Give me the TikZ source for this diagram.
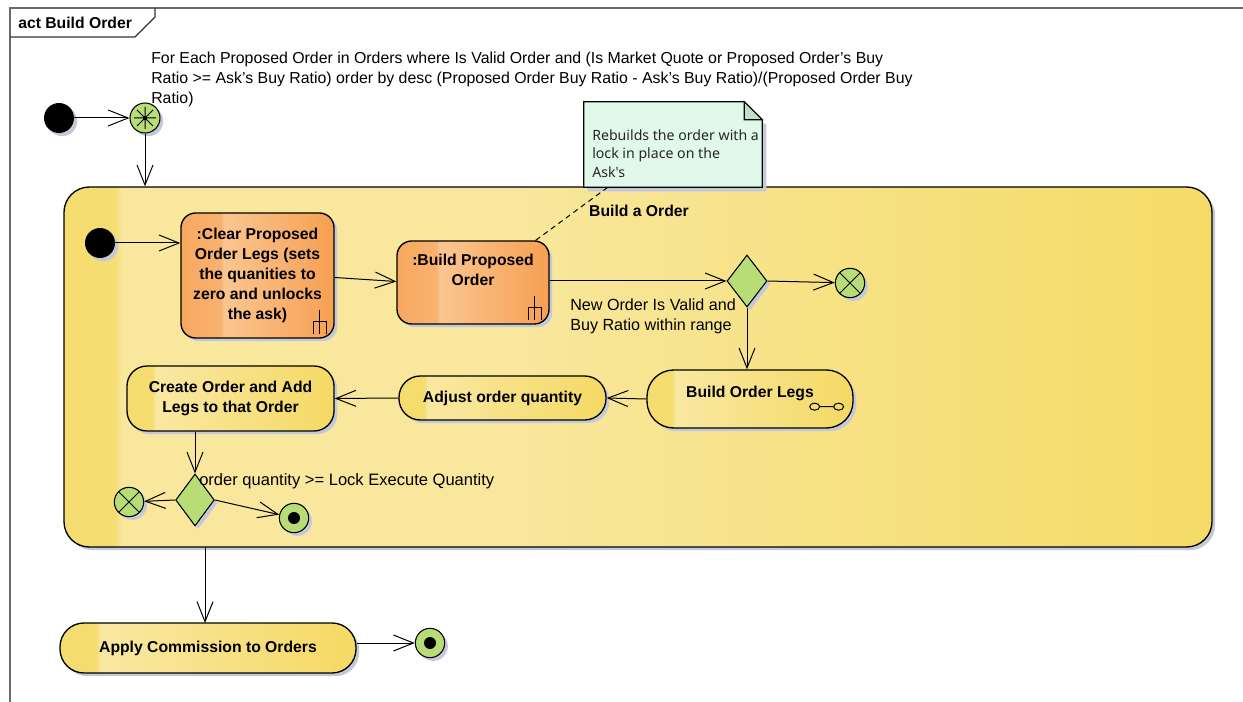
\documentclass[tikz,border=0pt]{standalone}
\usepackage{fontspec}
\setmainfont{Liberation Sans}
\newfontfamily\notefont{Noto Sans}
\usetikzlibrary{arrows.meta,shapes.geometric,shadows,calc}

\definecolor{framec}{HTML}{6A6A6A}
\definecolor{shadowc}{HTML}{C3C9D9}
\definecolor{greenc}{HTML}{B8DC76}
\definecolor{notec}{HTML}{E1F9EA}
\definecolor{foldc}{HTML}{C2DDCB}
% orange action fill
\definecolor{orA}{HTML}{F7A85E}
\definecolor{orB}{HTML}{F8B270}
\definecolor{orC}{HTML}{FBC590}
\definecolor{orD}{HTML}{F6A052}
% yellow action fill
\definecolor{yeA}{HTML}{F5DC6E}
\definecolor{yeB}{HTML}{F9E8A2}
\definecolor{yeC}{HTML}{F5D964}
% region fill
\definecolor{rgA}{HTML}{F5DD72}
\definecolor{rgB}{HTML}{F8E79C}
\definecolor{rgC}{HTML}{F5DB66}

\pgfdeclarehorizontalshading{orangeshade}{100bp}{color(0bp)=(orA); color(25bp)=(orA); color(38bp)=(orB); color(39bp)=(orC); color(75bp)=(orD); color(100bp)=(orD)}
\pgfdeclarehorizontalshading{yellowshade}{100bp}{color(0bp)=(yeA); color(25bp)=(yeA); color(31bp)=(yeA); color(32bp)=(yeB); color(75bp)=(yeC); color(100bp)=(yeC)}
\pgfdeclarehorizontalshading{regionshade}{100bp}{color(0bp)=(rgA); color(25bp)=(rgA); color(27.2bp)=(rgA); color(27.5bp)=(rgB); color(45bp)=(rgB); color(75bp)=(rgC); color(100bp)=(rgC)}

\newcommand\actfont{\fontsize{11.8pt}{15pt}\selectfont\bfseries}

\tikzset{
  shade3/.style={drop shadow={shadow xshift=2.4pt,shadow yshift=-2.4pt,fill=shadowc,opacity=1}},
  flow/.style={->,line width=0.75pt},
  initnode/.style={circle,fill=black,minimum size=22.5pt,inner sep=0pt,shade3},
  greennode/.style={circle,draw,line width=0.8pt,fill=greenc,minimum size=22pt,inner sep=0pt,shade3},
  decision/.style={diamond,draw,line width=0.8pt,fill=greenc,minimum width=30pt,minimum height=39pt,inner sep=0pt,shade3},
  callact/.style={rectangle,draw,line width=1pt,rounded corners=11pt,shading=orangeshade,font=\actfont,align=center,inner sep=0pt,shade3},
  action/.style={rectangle,draw,line width=1pt,shading=yellowshade,font=\actfont,align=center,inner sep=0pt,shade3},
  lbl/.style={align=left,inner sep=0pt},
  rake/.pic={\draw[line width=0.75pt] (0,-29) -- (0,-5) (-6.5,-5) -- (-6.5,-17) -- (6.5,-17) -- (6.5,-5);},
  glasses/.pic={\draw[line width=0.75pt] (-12,0) ellipse[x radius=5,y radius=3.5] (12,0) ellipse[x radius=5,y radius=3.5] (-7,0) -- (7,0);},
}

\begin{document}
\begin{tikzpicture}[x=0.75pt,y=-0.75pt,>={Straight Barb[length=15pt,width=12pt]}]
\useasboundingbox (0,0) rectangle (1243,702);

% diagram frame and its name tab
\draw[framec,line width=0.9pt] (10,702) -- (10,8) -- (1243,8);
\draw[black!80,line width=0.9pt] (10,37) -- (135,37) -- (155,17) -- (155,8);
\node[anchor=west,font=\actfont,inner sep=0pt] (title) at (18,23) {act Build Order};

% loop condition
\node[anchor=north west,font=\fontsize{11.9pt}{15pt}\selectfont,align=left,inner sep=0pt] (cond) at (151,52)
  {For Each Proposed Order in Orders where Is Valid Order and (Is Market Quote or Proposed Order's Buy\\
   Ratio >= Ask's Buy Ratio) order by desc (Proposed Order Buy Ratio - Ask's Buy Ratio)/(Proposed Order Buy\\
   Ratio)};

% outer start and expansion entry
\node[initnode] (start) at (59,118) {};
\node[greennode,minimum size=22.5pt] (loop) at (145,118) {};
\draw[line width=0.75pt] ($(loop.center)+(-11,0)$) -- ($(loop.center)+(11,0)$)
  ($(loop.center)+(0,-11)$) -- ($(loop.center)+(0,11)$)
  ($(loop.center)+(-8,-8)$) -- ($(loop.center)+(8,8)$)
  ($(loop.center)+(-8,8)$) -- ($(loop.center)+(8,-8)$);
\fill (loop.center) circle[radius=2];

% region
\node[rectangle,draw,line width=1pt,rounded corners=19pt,shading=regionshade,minimum width=861pt,minimum height=270pt,inner sep=0pt,shade3] (reg) at (638,367) {};
\node[font=\actfont,inner sep=0pt] (reglabel) at (639,211) {Build a Order};

% note
\node[minimum width=133.5pt,minimum height=63.75pt,inner sep=0pt] (note) at (673,144.5) {};
\fill[shadowc] ($(note.north west)+(4,4)$) -- ($(note.north east)+(4,22)$) -- ($(note.south east)+(4,4)$) -- ($(note.south west)+(4,4)$) -- cycle;
\draw[line width=1pt,fill=notec] (note.north west) -- ($(note.north east)+(-18,0)$) -- ($(note.north east)+(0,18)$) -- (note.south east) -- (note.south west) -- cycle;
\draw[line width=0.8pt,fill=foldc] ($(note.north east)+(-18,0)$) -- ($(note.north east)+(-18,18)$) -- ($(note.north east)+(0,18)$) -- cycle;
\node[anchor=north west,font=\notefont\fontsize{10.6pt}{13.9pt}\selectfont,align=left,inner sep=0pt,text=black!85] (notetext) at (592,129)
  {Rebuilds the order with a\\lock in place on the\\Ask's};

% nodes inside the region
\node[initnode] (start2) at (100,243) {};
\node[callact,minimum width=114.75pt,minimum height=93.75pt] (clear) at (257.5,275.5)
  {:Clear Proposed\\Order Legs (sets\\the quanities to\\zero and unlocks\\the ask)};
\pic at ($(clear.south east)+(-15,0)$) {rake};
\node[callact,minimum width=114pt,minimum height=62.25pt] (bpo) at (473,282.5)
  {\raisebox{5pt}[0pt][0pt]{\begin{tabular}{@{}c@{}}:Build Proposed\\Order\end{tabular}}};
\pic at ($(bpo.south east)+(-15,0)$) {rake};

\node[decision] (dec1) at (747,281) {};
\node[greennode] (ff1) at (850,283) {};
\draw[line width=0.75pt] (ff1.north east) -- (ff1.south west) (ff1.north west) -- (ff1.south east);
\node[lbl,anchor=north west,font=\fontsize{12.1pt}{14.5pt}\selectfont] (guard1) at (570,299) {New Order Is Valid and\\Buy Ratio within range};

\node[action,rounded corners=20pt,minimum width=154.5pt,minimum height=43.5pt] (bol) at (750,399)
  {\raisebox{1pt}[0pt][0pt]{Build Order Legs}};
\pic at ($(bol.south east)+(-27,-22)$) {glasses};
\node[action,rounded corners=16pt,minimum width=155.25pt,minimum height=33pt] (adj) at (502.5,398) {Adjust order quantity};
\node[action,rounded corners=15pt,minimum width=155.25pt,minimum height=48.75pt] (create) at (230.5,398.5)
  {Create Order and Add\\Legs to that Order};

\node[decision,minimum height=39pt,minimum width=29pt] (dec2) at (195,500) {};
\node[lbl,anchor=west,font=\fontsize{12.4pt}{15pt}\selectfont] (guard2) at (199,481) {order quantity >= Lock Execute Quantity};
\node[greennode] (ff2) at (129,502) {};
\draw[line width=0.75pt] (ff2.north east) -- (ff2.south west) (ff2.north west) -- (ff2.south east);
\node[greennode] (af1) at (294,518) {};
\fill (af1.center) circle[radius=6];

% after the region
\node[action,rounded corners=18pt,minimum width=222pt,minimum height=37.5pt] (apply) at (208,648) {Apply Commission to Orders};
\node[greennode] (af2) at (430,643) {};
\fill (af2.center) circle[radius=6];

% flows
\draw[flow] (start) -- (loop);
\draw[flow] (loop) -- (loop |- reg.north);
\draw[flow] (start2) -- (start2 -| clear.west);
\draw[flow] ($(clear.east)+(0,2)$) -- ($(bpo.west)+(0,-1)$);
\draw[flow] (bpo.east |- dec1) -- (dec1.west);
\draw[flow] (dec1.east) -- (ff1);
\draw[flow] (dec1.south) -- (dec1.south |- bol.north);
\draw[flow] (bol.west) -- (adj.east);
\draw[flow] (adj.west) -- (create.east);
\draw[flow] (dec2 |- create.south) -- (dec2.north);
\draw[flow] (dec2.west) -- (ff2);
\draw[flow] (dec2.east) -- (af1);
\draw[flow] (205,547) -- (205,623);
\draw[flow] (apply.east |- af2) -- (af2);
\draw[line width=0.75pt,dash pattern=on 4pt off 3pt] ($(note.south west)+(24,0)$) -- ($(bpo.north east)+(-14,0)$);
\end{tikzpicture}
\end{document}
